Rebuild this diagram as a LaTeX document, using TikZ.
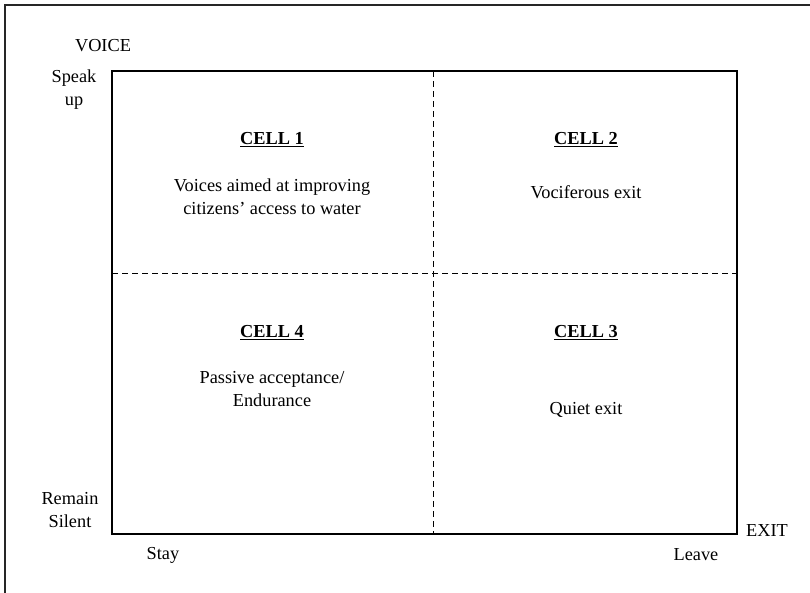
\documentclass[tikz,border=0pt]{standalone}
\usepackage{fontspec}
\setmainfont{Liberation Serif}
\usepackage{tikz}
\newcommand{\celltitle}[1]{\textbf{\underline{#1}}}

\begin{document}
\begin{tikzpicture}[x=1pt,y=-1pt,
	lbl/.style={align=center,inner sep=0pt,font=\fontsize{18.3}{23}\selectfont},
	divider/.style={dash pattern=on 6pt off 4pt,line width=1pt}]
\useasboundingbox (0,0) rectangle (810,592);
% frame (cut off on the right and at the bottom)
\draw[line width=1.6pt,black!85] (5,600) -- (5,5) -- (815,5);
% matrix
\coordinate (nw) at (112,71);
\coordinate (se) at (737,534);
\coordinate (vtop) at (433,71);
\coordinate (vbot) at (433,534);
\coordinate (hleft) at (112,273);
\coordinate (hright) at (737,273);
\draw[line width=1.3pt] (nw) rectangle (se);
\draw[divider] (vtop) -- (vbot);
\draw[divider] (hleft) -- (hright);
% axes
\node[lbl] (voice) at (103,46) {VOICE};
\node[lbl] (speak) at (74,90) {Speak\\up};
\node[lbl] (silent) at (70,510) {Remain\\Silent};
\node[lbl] (stay) at (163,555) {Stay};
\node[lbl] (leave) at (696,555) {Leave};
\node[lbl] (exit) at (767,530) {EXIT};
% cells
\node[lbl] (c1) at (272,140) {\celltitle{CELL 1}};
\node[lbl] (t1) at (272,197) {Voices aimed at improving\\citizens' access to water};
\node[lbl] (c2) at (586,140) {\celltitle{CELL 2}};
\node[lbl] (t2) at (586,192) {Vociferous exit};
\node[lbl] (c4) at (272,333) {\celltitle{CELL 4}};
\node[lbl] (t4) at (272,389) {Passive acceptance/\\Endurance};
\node[lbl] (c3) at (586,333) {\celltitle{CELL 3}};
\node[lbl] (t3) at (586,410) {Quiet exit};
\end{tikzpicture}
\end{document}
